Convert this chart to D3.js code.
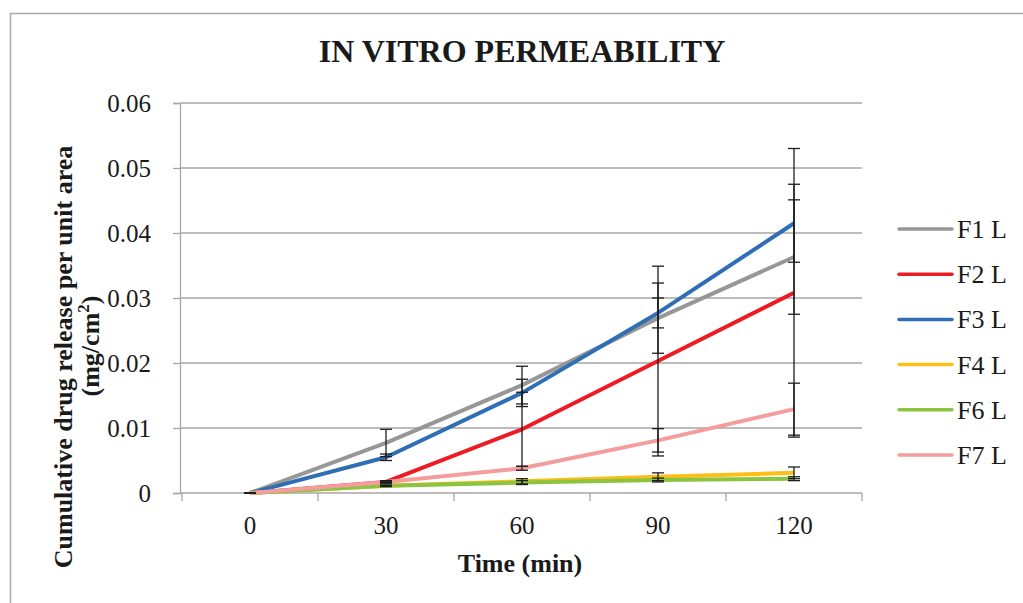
<!DOCTYPE html>
<html>
<head>
<meta charset="utf-8">
<script src="https://cdn.jsdelivr.net/npm/d3@7"></script>
<style>
    body { margin: 0; background: #fff; }
    text { font-family: "Liberation Serif", "Times New Roman", serif; fill: #1a1a1a; }
</style>
</head>
<body>
<script>
// Time points (x categories)
const categories = ["0", "30", "60", "90", "120"];

// Series names and mean values
const seriesNames = ["F1 L", "F2 L", "F3 L", "F4 L", "F6 L", "F7 L"];
const f1 = [0, 0.0077, 0.0166, 0.0269, 0.0363];
const f2 = [0, 0.0017, 0.0098, 0.0203, 0.0308];
const f3 = [0, 0.0055, 0.0154, 0.0277, 0.0415];
const f4 = [0, 0.0011, 0.0018, 0.0025, 0.0031];
const f6 = [0, 0.0011, 0.0016, 0.0020, 0.0022];
const f7 = [0, 0.0017, 0.0038, 0.0081, 0.0129];

// Error bar sizes (+/-)
const e1 = [0, 0.0021, 0.0029, 0.0054, 0.0088];
const e2 = [0, 0.0002, 0.0057, 0.0146, 0.0222];
const e3 = [0, 0.0005, 0.0021, 0.0023, 0.0060];
const e4 = [0, 0.0001, 0.0004, 0.0006, 0.0009];
const e6 = [0, 0.0001, 0.0003, 0.0003, 0.0003];
const e7 = [0, 0.0001, 0.0003, 0.0018, 0.0040];

// Y tick values
const yTicks = [0, 0.01, 0.02, 0.03, 0.04, 0.05, 0.06];

const colors = ["#979797", "#ed1c24", "#2f6eb5", "#fdbe17", "#8bc43f", "#f59c9c"];

const series = seriesNames.map((name, i) => ({
    name: name,
    values: [f1, f2, f3, f4, f6, f7][i],
    errors: [e1, e2, e3, e4, e6, e7][i],
    color: colors[i]
}));

const outerWidth = 1023;
const outerHeight = 603;
const plot = { left: 180, right: 862, top: 103, bottom: 493 };

const svg = d3.select("body").append("svg")
    .attr("width", outerWidth)
    .attr("height", outerHeight);

// Chart frame (top and left edge visible)
svg.append("path")
    .attr("d", `M10.5,${outerHeight} L10.5,13.5 L${outerWidth},13.5`)
    .attr("fill", "none")
    .attr("stroke", "#a9a9a9")
    .attr("stroke-width", 1.5);

// Scales
const x = d3.scaleBand()
    .domain(categories)
    .range([plot.left + 2, plot.right]);

const y = d3.scaleLinear()
    .domain([0, 0.06])
    .range([plot.bottom, plot.top]);

const cx = c => x(c) + x.bandwidth() / 2;

// Gridlines
svg.append("g")
    .selectAll("line")
    .data(yTicks.slice(1))
    .join("line")
    .attr("x1", plot.left)
    .attr("x2", plot.right)
    .attr("y1", d => y(d))
    .attr("y2", d => y(d))
    .attr("stroke", "#a6a6a6")
    .attr("stroke-width", 1.3);

// Y axis
const yAxis = svg.append("g")
    .attr("transform", `translate(${plot.left},0)`)
    .call(d3.axisLeft(y).tickValues(yTicks).tickSize(7).tickPadding(22)
        .tickFormat(d => d === 0 ? "0" : d3.format(".2f")(d)));
yAxis.attr("font-family", null);
yAxis.select(".domain").attr("stroke", "#a6a6a6").attr("stroke-width", 1.3);
yAxis.selectAll(".tick line").attr("stroke", "#a6a6a6").attr("stroke-width", 1.3);
yAxis.selectAll(".tick text")
    .style("font-family", "'Liberation Serif', serif")
    .style("font-size", "25px")
    .attr("fill", "#1a1a1a");

// X axis line with ticks at category boundaries
const xEdges = categories.map(c => x(c)).concat([x.range()[1]]);
svg.append("line")
    .attr("x1", plot.left)
    .attr("x2", plot.right)
    .attr("y1", plot.bottom)
    .attr("y2", plot.bottom)
    .attr("stroke", "#a6a6a6")
    .attr("stroke-width", 1.3);
svg.append("g")
    .selectAll("line")
    .data(xEdges)
    .join("line")
    .attr("x1", d => d)
    .attr("x2", d => d)
    .attr("y1", plot.bottom)
    .attr("y2", plot.bottom + 8)
    .attr("stroke", "#a6a6a6")
    .attr("stroke-width", 1.3);
svg.append("g")
    .selectAll("text")
    .data(categories)
    .join("text")
    .attr("x", d => cx(d))
    .attr("y", 534)
    .attr("text-anchor", "middle")
    .style("font-size", "25px")
    .text(d => d);

// Lines
const line = d3.line()
    .x((d, i) => cx(categories[i]))
    .y(d => y(d));

svg.append("g")
    .selectAll("path")
    .data(series)
    .join("path")
    .attr("d", d => line(d.values))
    .attr("fill", "none")
    .attr("stroke", d => d.color)
    .attr("stroke-width", 4)
    .attr("stroke-linejoin", "round");

// Error bars
const capHalf = 6;
const errGroup = svg.append("g")
    .attr("stroke", "#1e1e1e")
    .attr("stroke-width", 1.3);
series.forEach(s => {
    s.values.forEach((v, i) => {
        const px = cx(categories[i]);
        const hi = y(v + s.errors[i]);
        const lo = y(Math.max(0, v - s.errors[i]));
        errGroup.append("line").attr("x1", px).attr("x2", px).attr("y1", hi).attr("y2", lo);
        errGroup.append("line").attr("x1", px - capHalf).attr("x2", px + capHalf).attr("y1", hi).attr("y2", hi);
        errGroup.append("line").attr("x1", px - capHalf).attr("x2", px + capHalf).attr("y1", lo).attr("y2", lo);
    });
});

// Title
svg.append("text")
    .attr("x", 522)
    .attr("y", 62)
    .attr("text-anchor", "middle")
    .style("font-size", "32px")
    .style("font-weight", "bold")
    .text("IN VITRO PERMEABILITY");

// X axis title
svg.append("text")
    .attr("x", 520)
    .attr("y", 572)
    .attr("text-anchor", "middle")
    .style("font-size", "26px")
    .style("font-weight", "bold")
    .text("Time (min)");

// Y axis title (two lines)
svg.append("text")
    .attr("transform", "translate(72,357) rotate(-90)")
    .attr("text-anchor", "middle")
    .style("font-size", "26px")
    .style("font-weight", "bold")
    .text("Cumulative drug release per unit area");

const yLab2 = svg.append("text")
    .attr("transform", "translate(99,346) rotate(-90)")
    .attr("text-anchor", "middle")
    .style("font-size", "26px")
    .style("font-weight", "bold");
yLab2.append("tspan").text("(mg/cm");
yLab2.append("tspan").attr("dy", -10).style("font-size", "17px").text("2");
yLab2.append("tspan").attr("dy", 10).text(")");

// Legend
const legend = svg.append("g")
    .attr("transform", "translate(899,229)");

const legendItems = legend.selectAll("g")
    .data(series)
    .join("g")
    .attr("transform", (d, i) => `translate(0,${i * 45.2})`);

legendItems.append("line")
    .attr("x1", 0)
    .attr("x2", 53)
    .attr("stroke", d => d.color)
    .attr("stroke-width", 3.5)
    .attr("stroke-linecap", "round");

legendItems.append("text")
    .attr("x", 58)
    .attr("y", 9)
    .style("font-size", "26px")
    .text(d => d.name);
</script>
</body>
</html>
